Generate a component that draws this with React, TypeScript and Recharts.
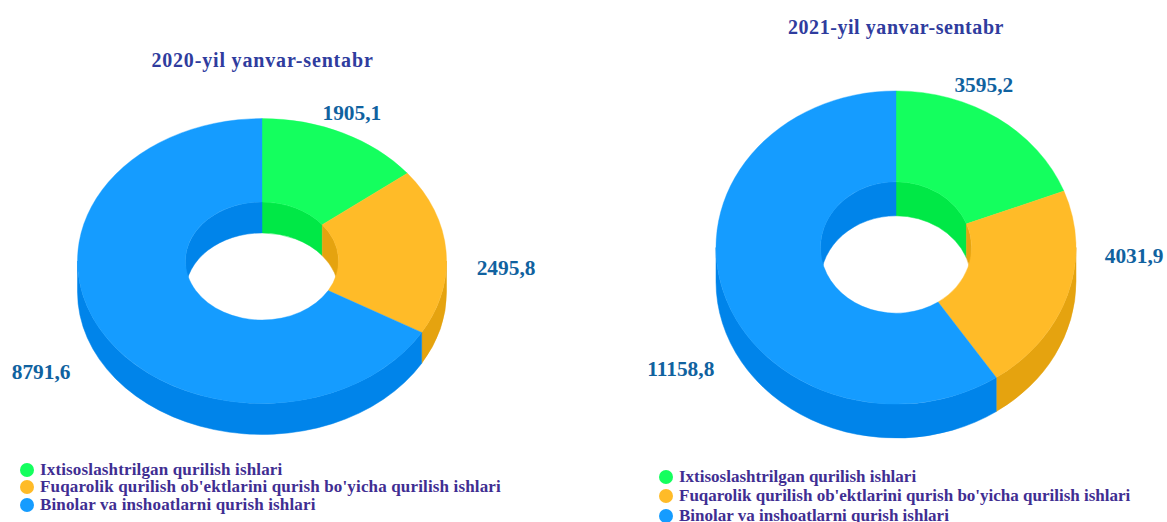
import { PieChart, Pie, Legend } from 'recharts'

const CATEGORIES = [
  'Ixtisoslashtrilgan qurilish ishlari',
  "Fuqarolik qurilish ob'ektlarini qurish bo'yicha qurilish ishlari",
  'Binolar va inshoatlarni qurish ishlari',
]
const VALUES_2020 = [1905.1, 2495.8, 8791.6]
const VALUES_2021 = [3595.2, 4031.9, 11158.8]

const TOP_COLORS = ['#14FF5E', '#FFBB28', '#159CFF']
const WALL_COLORS = ['#00E846', '#E5A30F', '#0084EA']

const LABEL_COLOR = '#10629F'
const TITLE_COLOR = '#2F3C9E'
const LEGEND_COLOR = '#3F2E92'
const FONT = '"Liberation Serif", serif'

const toRows = (values: number[]) => values.map((value, i) => ({ name: CATEGORIES[i], value }))

const pt = (cx: number, cy: number, r: number, tilt: number, a: number, dy = 0) => {
  const rad = (a * Math.PI) / 180
  return [cx + r * Math.cos(rad), cy - r * tilt * Math.sin(rad) + dy]
}

// band between an elliptical arc and the same arc pushed down by depth
function bandPath(cx: number, cy: number, r: number, tilt: number, from: number, to: number, depth: number) {
  if (from <= to) return ''
  const large = from - to > 180 ? 1 : 0
  const [x0, y0] = pt(cx, cy, r, tilt, from)
  const [x1, y1] = pt(cx, cy, r, tilt, to)
  const ry = r * tilt
  return `M${x0},${y0} A${r},${ry} 0 ${large} 1 ${x1},${y1} L${x1},${y1 + depth} A${r},${ry} 0 ${large} 0 ${x0},${y0 + depth} Z`
}

function wallShape(tilt: number, depth: number) {
  return (props: any) => {
    const { cx, cy, innerRadius, outerRadius, startAngle, endAngle } = props
    const color = WALL_COLORS[CATEGORIES.indexOf(props.name ?? props.payload?.name)]
    const d = [
      // outer wall shows on the lower half, inner wall on the upper half
      bandPath(cx, cy, outerRadius, tilt, Math.min(startAngle, 0), Math.max(endAngle, -180), depth),
      bandPath(cx, cy, innerRadius, tilt, Math.min(startAngle, 90), Math.max(endAngle, 0), depth),
      bandPath(cx, cy, innerRadius, tilt, Math.min(startAngle, -180), Math.max(endAngle, -270), depth),
    ].join(' ')
    return <path d={d} fill={color} stroke={color} strokeWidth={0.5} />
  }
}

function topShape(tilt: number) {
  return (props: any) => {
    const { cx, cy, innerRadius, outerRadius, startAngle, endAngle } = props
    const color = TOP_COLORS[CATEGORIES.indexOf(props.name ?? props.payload?.name)]
    const large = startAngle - endAngle > 180 ? 1 : 0
    const [ox0, oy0] = pt(cx, cy, outerRadius, tilt, startAngle)
    const [ox1, oy1] = pt(cx, cy, outerRadius, tilt, endAngle)
    const [ix0, iy0] = pt(cx, cy, innerRadius, tilt, startAngle)
    const [ix1, iy1] = pt(cx, cy, innerRadius, tilt, endAngle)
    const d = `M${ox0},${oy0} A${outerRadius},${outerRadius * tilt} 0 ${large} 1 ${ox1},${oy1} L${ix1},${iy1} A${innerRadius},${innerRadius * tilt} 0 ${large} 0 ${ix0},${iy0} Z`
    return <path d={d} fill={color} stroke={color} strokeWidth={0.4} />
  }
}

interface DonutProps {
  title: string
  values: number[]
  left: number
  cx: number
  cy: number
  outer: number
  inner: number
  tilt: number
  depth: number
  titleX: number
  titleY: number
  titleSpacing: number
  labelOffsets: number[][]
  legendLeft: number
  legendTop: number
  rowHeight: number
  legendSpacing: number
}

function Donut(p: DonutProps) {
  const rows = toRows(p.values)

  const renderLabel = (props: any) => {
    const [x, y] = pt(props.cx, props.cy, props.outerRadius, p.tilt, props.midAngle)
    const [dx, dy] = p.labelOffsets[props.index]
    return (
      <text x={x + dx} y={y + dy} textAnchor="middle" dominantBaseline="central"
        fontFamily={FONT} fontWeight="bold" fontSize={21.4} fill={LABEL_COLOR}>
        {String(props.value).replace('.', ',')}
      </text>
    )
  }

  return (
    <div style={{ position: 'absolute', left: p.left, top: 0 }}>
      <PieChart width={583} height={522} margin={{ top: 0, right: 0, bottom: 0, left: 0 }}>
        <text x={p.titleX} y={p.titleY} textAnchor="middle" dominantBaseline="central"
          fontFamily={FONT} fontWeight="bold" fontSize={20} letterSpacing={p.titleSpacing} fill={TITLE_COLOR}>
          {p.title}
        </text>
        <Pie data={rows} dataKey="value" nameKey="name" cx={p.cx} cy={p.cy} innerRadius={p.inner} outerRadius={p.outer}
          startAngle={90} endAngle={-270} legendType="none" isAnimationActive={false}
          shape={wallShape(p.tilt, p.depth)} />
        <Pie data={rows} dataKey="value" nameKey="name" cx={p.cx} cy={p.cy} innerRadius={p.inner} outerRadius={p.outer}
          startAngle={90} endAngle={-270} isAnimationActive={false}
          shape={topShape(p.tilt)} label={renderLabel} labelLine={false} />
        <Legend
          wrapperStyle={{ position: 'absolute', left: p.legendLeft, top: p.legendTop, width: 520, height: 60, bottom: 'auto' }}
          content={() => (
            <div>
              {CATEGORIES.map((name, i) => (
                <div key={name} style={{ display: 'flex', alignItems: 'center', height: p.rowHeight, whiteSpace: 'nowrap' }}>
                  <span style={{ width: 14, height: 14, borderRadius: 7, background: TOP_COLORS[i], marginRight: 6, flexShrink: 0 }} />
                  <span style={{ fontFamily: FONT, fontWeight: 'bold', fontSize: 17, letterSpacing: p.legendSpacing, color: LEGEND_COLOR }}>{name}</span>
                </div>
              ))}
            </div>
          )}
        />
      </PieChart>
    </div>
  )
}

export default function App() {
  return (
    <div style={{ position: 'absolute', left: 0, top: 0, width: 1167, height: 522, background: '#fff', overflow: 'hidden' }}>
      <Donut title="2020-yil yanvar-sentabr" values={VALUES_2020} left={0}
        cx={262} cy={261} outer={184.5} inner={76.5} tilt={0.772} depth={31}
        titleX={262.5} titleY={60} titleSpacing={0.83}
        labelOffsets={[[9, -20], [60, 17], [-61, 40]]}
        legendLeft={20} legendTop={461} rowHeight={17.6} legendSpacing={0.15} />
      <Donut title="2021-yil yanvar-sentabr" values={VALUES_2021} left={584}
        cx={312} cy={247.5} outer={180} inner={75.5} tilt={0.87} depth={34}
        titleX={312} titleY={27} titleSpacing={0.56}
        labelOffsets={[[-14, -33], [66.5, -39], [-43, 76]]}
        legendLeft={75} legendTop={467} rowHeight={19.5} legendSpacing={0} />
    </div>
  )
}
